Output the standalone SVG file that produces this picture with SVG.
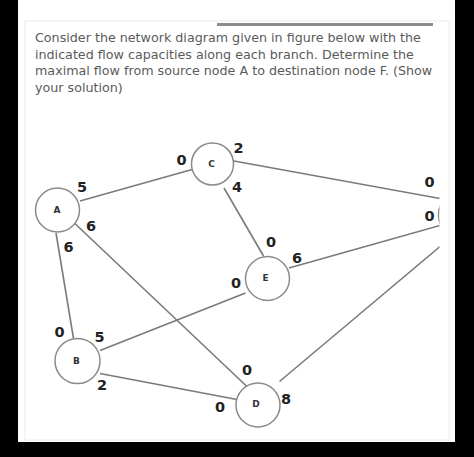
<svg xmlns="http://www.w3.org/2000/svg" width="474" height="457" viewBox="0 0 474 457">
<style>
.q{font-family:"DejaVu Sans","Liberation Sans",sans-serif;font-size:12.7px;fill:#5a5a5a}
.e{stroke:#7a7a7a;stroke-width:1.6;fill:none}
.n{fill:#fff;stroke:#8a8a8a;stroke-width:1.5}
.nl{font-family:"DejaVu Sans","Liberation Sans",sans-serif;font-size:9px;font-weight:bold;fill:#333;text-anchor:middle;dominant-baseline:central}
.c{font-family:"DejaVu Sans","Liberation Sans",sans-serif;font-size:14.5px;font-weight:bold;fill:#222;text-anchor:middle;dominant-baseline:central}
</style>
<defs>
<clipPath id="clip"><rect x="0" y="100" width="439.5" height="357"/></clipPath>
</defs>
<rect x="0" y="0" width="474" height="457" fill="#000"/>
<rect x="18" y="0" width="437" height="442" fill="#fff"/>
<rect x="25" y="21" width="424" height="419" fill="none" stroke="#ececec" stroke-width="1"/>
<rect x="217" y="23" width="216" height="3" fill="#8c8c8c"/>
<g id="question">
<text class="q" x="35" y="42">Consider the network diagram given in figure below with the</text>
<text class="q" x="35" y="58.5">indicated flow capacities along each branch. Determine the</text>
<text class="q" x="35" y="75">maximal flow from source node A to destination node F. (Show</text>
<text class="q" x="35" y="91.5">your solution)</text>
</g>
<g clip-path="url(#clip)">
<g id="connectors">
<line class="e" x1="80" y1="201" x2="192" y2="169.5"/>
<line class="e" x1="234" y1="161" x2="440" y2="198.5"/>
<line class="e" x1="224" y1="188" x2="263.5" y2="256"/>
<line class="e" x1="289" y1="268" x2="440" y2="225.5"/>
<line class="e" x1="68" y1="217" x2="248" y2="387.5"/>
<line class="e" x1="56" y1="233" x2="73.5" y2="338.5"/>
<line class="e" x1="100" y1="350.5" x2="245.5" y2="293"/>
<line class="e" x1="100" y1="373.5" x2="237" y2="399.5"/>
<line class="e" x1="279.5" y1="381.5" x2="440" y2="246.5"/>
</g>
<g id="node-A"><circle class="n" cx="57.5" cy="210" r="22"/><text class="nl" x="57" y="210">A</text></g>
<g id="node-C"><circle class="n" cx="212.5" cy="164" r="21"/><text class="nl" x="211.5" y="164">C</text></g>
<g id="node-E"><circle class="n" cx="267.5" cy="278.5" r="22"/><text class="nl" x="265.5" y="277.5">E</text></g>
<g id="node-B"><circle class="n" cx="77.5" cy="361" r="22.5"/><text class="nl" x="76.5" y="361">B</text></g>
<g id="node-D"><circle class="n" cx="258" cy="405" r="22"/><text class="nl" x="256" y="404">D</text></g>
<g id="node-F"><circle class="n" cx="461" cy="215" r="22.5"/></g>
</g>
<g id="capacities">
<text class="c" x="181.5" y="160">0</text>
<text class="c" x="238.5" y="148">2</text>
<text class="c" x="237" y="186.5">4</text>
<text class="c" x="82" y="186.5">5</text>
<text class="c" x="91" y="226">6</text>
<text class="c" x="68.5" y="247">6</text>
<text class="c" x="271" y="241.5">0</text>
<text class="c" x="297" y="258">6</text>
<text class="c" x="236" y="282.5">0</text>
<text class="c" x="429.5" y="182">0</text>
<text class="c" x="429.5" y="216">0</text>
<text class="c" x="59.5" y="331.5">0</text>
<text class="c" x="99.5" y="337">5</text>
<text class="c" x="102" y="385">2</text>
<text class="c" x="247" y="370">0</text>
<text class="c" x="220" y="407">0</text>
<text class="c" x="286" y="399">8</text>
</g>
</svg>
